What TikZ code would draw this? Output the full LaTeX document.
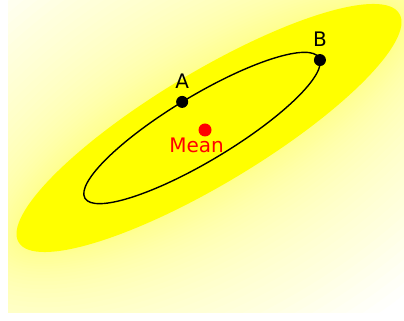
\documentclass[tikz,border=0pt]{standalone}
\usepackage{fontspec}
\setsansfont{DejaVu Sans}
\usetikzlibrary{positioning}

\definecolor{distyellow}{RGB}{255,255,0}
\definecolor{meanred}{RGB}{255,0,0}

\tikzset{
  dot/.style={circle,fill=black,minimum size=12pt,inner sep=0pt},
  meandot/.style={circle,fill=meanred,minimum size=13pt,inner sep=0pt},
  lbl/.style={font=\sffamily\fontsize{20}{24}\selectfont,inner sep=0pt},
}

\begin{document}
\begin{tikzpicture}[x=1pt,y=1pt]
	\useasboundingbox (0,0) rectangle (404,321);
	
	% Glow around the distribution
	\begin{scope}
		\clip (8,8) rectangle (404,321);
		\foreach \i in {1,...,40} {
			\fill[distyellow,opacity=0.015,rotate around={31:(209,193)}] (209,193) ellipse [x radius={222+0.12*\i*\i}, y radius={56+0.12*\i*\i}];
		}
	\end{scope}
	
	% Distribution
	\fill[distyellow,rotate around={31:(209,193)}] (209,193) ellipse [x radius=222, y radius=56];
	
	% Contour with the points A and B
	\begin{scope}[shift={(202,193)},rotate=31]
		\draw[line width=1.4pt] (0,0) ellipse [x radius=136.5, y radius=32.6];
		\node[dot] (A) at ({136.5*cos(91.5)},{32.6*sin(91.5)}) {};
		\node[dot] (B) at ({136.5*cos(-4.4)},{32.6*sin(-4.4)}) {};
	\end{scope}
	\node[lbl,above=7pt of A] (labA) {A};
	\node[lbl,above=7pt of B] (labB) {B};
	
	% Mean
	\node[meandot] (mu) at (205,191) {};
	\node[lbl,text=meanred,below=1pt of mu,xshift=-8.5pt] (labmu) {Mean};
\end{tikzpicture}
\end{document}
